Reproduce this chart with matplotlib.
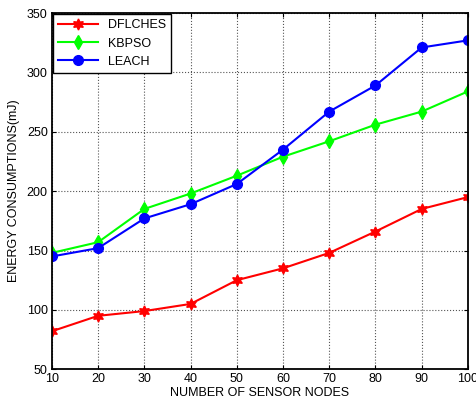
import matplotlib.pyplot as plt

plt.rcParams['font.family'] = ['Liberation Sans', 'DejaVu Sans']

nodes = [10, 20, 30, 40, 50, 60, 70, 80, 90, 100]
dflches = [82, 95, 99, 105, 125, 135, 148, 166, 185, 195]
kbpso = [148, 157, 185, 198, 213, 229, 242, 256, 267, 284]
leach = [145, 152, 177, 189, 206, 235, 267, 289, 321, 327]

fig = plt.figure(figsize=(4.76, 4.08), dpi=100)
ax = fig.add_axes([0.109, 0.095, 0.874, 0.873])

ax.plot(nodes, dflches, color='red', lw=1.5, marker=(6, 1, 0), ms=8, label='DFLCHES')
ax.plot(nodes, kbpso, color='#00ff00', lw=1.5, marker='d', ms=7, label='KBPSO')
ax.plot(nodes, leach, color='blue', lw=1.5, marker='o', ms=7, label='LEACH')

ax.set_xlim(10, 100)
ax.set_ylim(50, 350)
ax.set_xticks(nodes)
ax.set_yticks(range(50, 351, 50))
ax.grid(True, color='#555555', linestyle=':', linewidth=0.8)
ax.tick_params(direction='in', top=True, right=True, labelsize=9, length=3, pad=3)
for s in ax.spines.values():
    s.set_linewidth(1.3)

ax.set_xlabel('NUMBER OF SENSOR NODES', fontsize=9, labelpad=1)
ax.set_ylabel('ENERGY CONSUMPTIONS(mJ)', fontsize=9, labelpad=5)

leg = ax.legend(loc='upper left', fontsize=9, handlelength=3.2, fancybox=False,
                framealpha=1, edgecolor='black', borderaxespad=0.1, labelspacing=0.5)
leg.get_frame().set_linewidth(1.0)

fig.savefig('out.png', dpi=100)
